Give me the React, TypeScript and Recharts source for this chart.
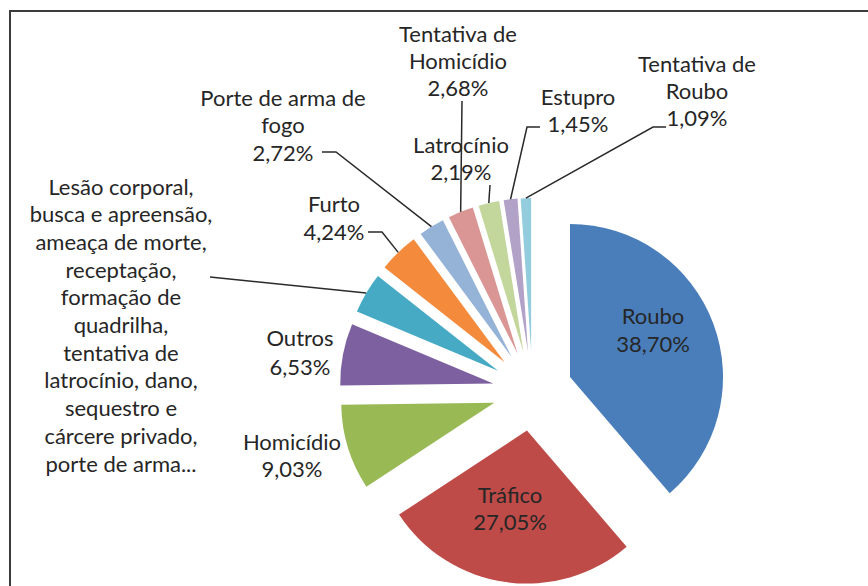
import React from 'react';
import { PieChart, Pie, Cell } from 'recharts';

// ---- data ----
const categories = [
  'Roubo',
  'Tráfico',
  'Homicídio',
  'Outros',
  'Lesão corporal, busca e apreensão, ameaça de morte, receptação, formação de quadrilha, tentativa de latrocínio, dano, sequestro e cárcere privado, porte de arma...',
  'Furto',
  'Porte de arma de fogo',
  'Tentativa de Homicídio',
  'Latrocínio',
  'Estupro',
  'Tentativa de Roubo',
];
const values = [38.7, 27.05, 9.03, 6.53, 4.32, 4.24, 2.72, 2.68, 2.19, 1.45, 1.09];
const showPercent = [true, true, true, true, false, true, true, true, true, true, true];
const nameLines = [
  ['Roubo'],
  ['Tráfico'],
  ['Homicídio'],
  ['Outros'],
  ['Lesão corporal,', 'busca e apreensão,', 'ameaça de morte,', 'receptação,', 'formação de', 'quadrilha,', 'tentativa de', 'latrocínio, dano,', 'sequestro e', 'cárcere privado,', 'porte de arma...'],
  ['Furto'],
  ['Porte de arma de', 'fogo'],
  ['Tentativa de', 'Homicídio'],
  ['Latrocínio'],
  ['Estupro'],
  ['Tentativa de', 'Roubo'],
];

// ---- styles / layout ----
const colors = ['#4A7EBB', '#BE4B48', '#98B954', '#7D60A0', '#46AAC5', '#F38A3C', '#95B3D7', '#D99694', '#C3D69B', '#B3A2C7', '#93CDDD'];
const CX = 532.5;
const CY = 391;
const R = 153;
const EXPLODE = 40;
const FONT = 'Lato, "Open Sans", sans-serif';
const FONT_SIZE = 22;
// label block: x center, y of first line center, line height, leader path start points
const labelLayout = [
  { x: 653, y: 315, lh: 28, leader: null },
  { x: 510, y: 494, lh: 27, leader: null },
  { x: 292, y: 441, lh: 27, leader: null },
  { x: 300, y: 337, lh: 29, leader: null },
  { x: 121, y: 186, lh: 27.7, leader: [[210, 277]] },
  { x: 334, y: 203, lh: 28, leader: [[368, 232], [382, 232]] },
  { x: 283, y: 97, lh: 27.5, leader: [[322, 152], [336, 152]] },
  { x: 458, y: 33, lh: 27, leader: [[462, 101]] },
  { x: 461, y: 144, lh: 27, leader: [[490, 185]] },
  { x: 578, y: 96, lh: 27, leader: [[540, 127], [527, 127]] },
  { x: 697, y: 63, lh: 27, leader: [[666, 127], [653, 127]] },
];

const RAD = Math.PI / 180;
const total = values.reduce((a, b) => a + b, 0);
const data = categories.map((name, i) => ({ name, value: values[i] }));
const mids: number[] = [];
{
  let cum = 0;
  values.forEach((v) => {
    mids.push(((cum + v / 2) / total) * 360);
    cum += v;
  });
}
const fmt = (v: number) => v.toFixed(2).replace('.', ',') + '%';

function makeLabel(target: number) {
  return (props: any) => {
    if (props.index !== target) return null;
    const L = labelLayout[target];
    const lines = [...nameLines[target]];
    if (showPercent[target]) lines.push(fmt(values[target]));
    const ax = props.cx + props.outerRadius * Math.cos(-props.midAngle * RAD);
    const ay = props.cy + props.outerRadius * Math.sin(-props.midAngle * RAD);
    let path = '';
    if (L.leader) {
      path = L.leader.map((p, k) => (k === 0 ? 'M' : 'L') + p[0] + ' ' + p[1]).join(' ') + ` L${ax} ${ay}`;
    }
    return (
      <g>
        {path && <path d={path} stroke="#2a2a2a" strokeWidth={1.5} fill="none" />}
        {lines.map((t, k) => (
          <text
            key={k}
            x={L.x}
            y={L.y + k * L.lh}
            textAnchor="middle"
            dominantBaseline="central"
            fontFamily={FONT}
            fontSize={FONT_SIZE}
            fill="#262626"
          >
            {t}
          </text>
        ))}
      </g>
    );
  };
}

export default function App() {
  return (
    <div style={{ position: 'absolute', left: 0, top: 0, width: 868, height: 586, background: '#fff', overflow: 'hidden' }}>
      <div
        style={{
          position: 'absolute',
          left: 9,
          top: 10,
          width: 868,
          height: 600,
          borderTop: '2.5px solid #3c3c3c',
          borderLeft: '2.5px solid #3c3c3c',
        }}
      />
      <div style={{ position: 'absolute', left: 0, top: 0 }}>
        <PieChart width={868} height={586} margin={{ top: 0, right: 0, bottom: 0, left: 0 }}>
          {values.map((_, i) => (
            <Pie
              key={i}
              data={data}
              dataKey="value"
              nameKey="name"
              cx={CX + EXPLODE * Math.sin(mids[i] * RAD)}
              cy={CY - EXPLODE * Math.cos(mids[i] * RAD)}
              outerRadius={R}
              innerRadius={0}
              startAngle={90}
              endAngle={-270}
              stroke="none"
              isAnimationActive={false}
              labelLine={false}
              label={makeLabel(i)}
            >
              {data.map((_, j) => (
                <Cell key={j} fill={j === i ? colors[i] : 'none'} stroke="none" />
              ))}
            </Pie>
          ))}
        </PieChart>
      </div>
    </div>
  );
}
